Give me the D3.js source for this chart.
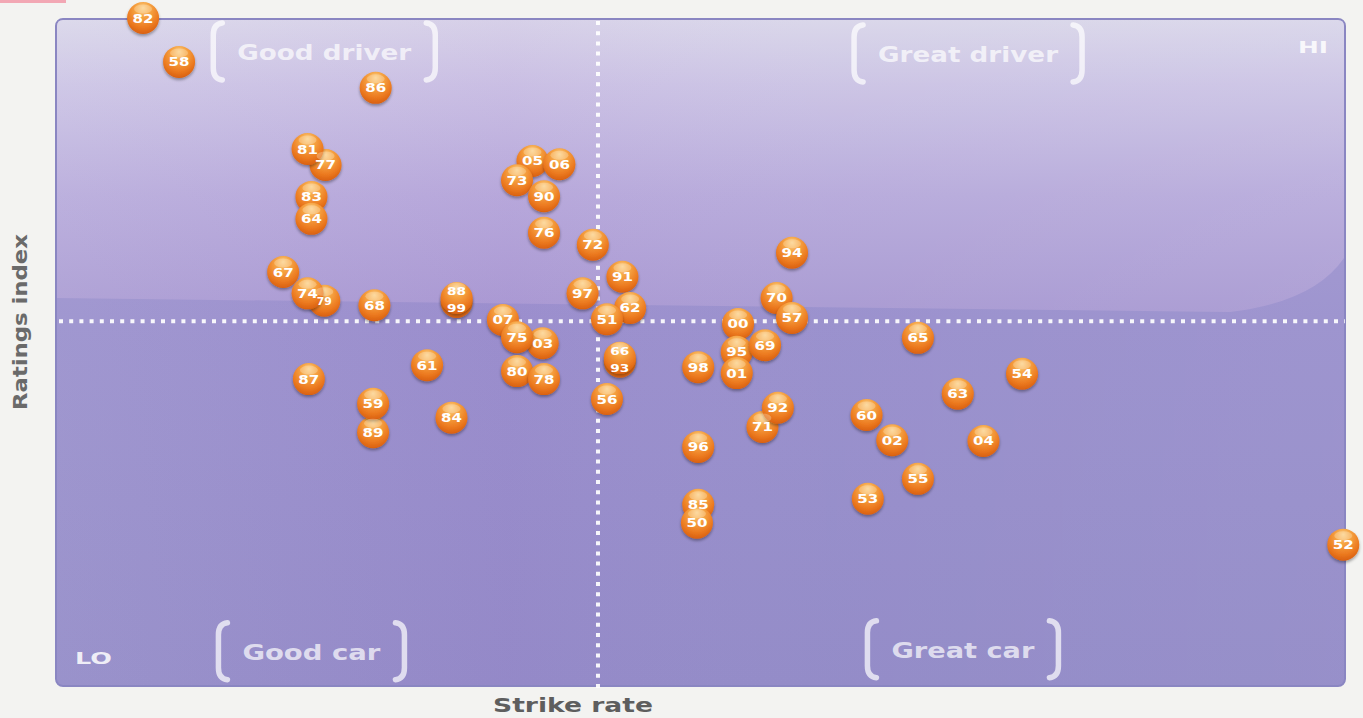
<!DOCTYPE html>
<html>
<head>
<meta charset="utf-8">
<script src="https://cdn.jsdelivr.net/npm/d3@7/dist/d3.min.js"></script>
<style>
  html, body { margin: 0; padding: 0; background: #f3f3f1; }
  svg { display: block; }
</style>
</head>
<body>
<svg id="chart" width="1363" height="718"></svg>
<script>
// Season labels (two-digit year), drawn in this order so later balls sit on top
const seasons = ["82","58","86","77","81","83","64","05","06","73","90","76","72","67","79","74","68","99","88","97","91","62","51","07","03","75","93","66","87","61","80","78","56","89","59","84","94","70","57","00","95","69","98","01","65","54","63","71","92","60","02","04","96","55","53","85","50","52"];
// Strike rate (0-100 index)
const strikeRate = [6.7,9.5,24.8,20.9,19.5,19.8,19.8,37.0,39.1,35.8,37.9,37.9,41.7,17.6,20.8,19.5,24.7,31.1,31.1,40.9,44.0,44.6,42.8,34.7,37.8,35.8,43.8,43.8,19.6,28.8,35.8,37.9,42.8,24.6,24.6,30.7,57.2,56.0,57.2,53.0,52.9,55.1,49.9,52.9,67.0,75.1,70.1,54.9,56.1,63.0,65.0,72.1,49.9,67.0,63.1,49.9,49.8,100.1];
// Ratings index (0-100 index)
const ratingsIndex = [100.3,93.7,89.8,78.2,80.6,73.4,70.1,78.8,78.3,75.9,73.5,68.0,66.2,62.1,57.8,58.9,57.1,57.6,58.2,58.9,61.4,56.7,55.0,54.9,51.4,52.3,48.6,49.2,46.0,48.1,47.2,46.0,43.0,38.0,42.3,40.2,65.0,58.2,55.2,54.3,50.1,51.1,47.8,46.9,52.2,46.8,43.8,38.8,41.7,40.6,36.8,36.7,35.8,31.0,28.0,27.1,24.4,21.1];
// Dividing lines (averages) on each axis
const strikeRateMid = [42.1];
const ratingsMid = [54.7];
// Quadrant captions with their anchor point in index units
const quadrantNames = ["Good driver", "Great driver", "Good car", "Great car"];
const quadrantX = [20.8, 70.9, 19.8, 70.5];
const quadrantY = [95.2, 94.9, 5.0, 5.3];
const scaleEnds = ["LO", "HI"];

const svg = d3.select("#chart");
const plot = { left: 56, top: 19, right: 1345, bottom: 686 };

const x = d3.scaleLinear().domain([0, 100]).range([57, 1342]);
const y = d3.scaleLinear().domain([0, 100]).range([685, 20]);

const defs = svg.append("defs");

// background gradients
const bg = defs.append("linearGradient").attr("id", "bgGrad").attr("x1", 0).attr("y1", 0).attr("x2", 0).attr("y2", 1);
[[0, "#a59ad2"], [0.45, "#968ccb"], [1, "#8e86c5"]].forEach(([o, c]) => bg.append("stop").attr("offset", o).attr("stop-color", c));

const gloss = defs.append("linearGradient").attr("id", "glossGrad").attr("x1", 0).attr("y1", 0).attr("x2", 0).attr("y2", 1);
[[0, "#d8d5e9"], [0.22, "#cac2e4"], [0.6, "#b5a8da"], [1, "#a697d1"]].forEach(([o, c]) => gloss.append("stop").attr("offset", o).attr("stop-color", c));

const haze = defs.append("linearGradient").attr("id", "hazeGrad").attr("x1", 0).attr("y1", 0).attr("x2", 1).attr("y2", 0);
[[0, "#ffffff", 0.10], [0.35, "#c9a0e0", 0.10], [0.6, "#ffffff", 0.05], [1, "#ffffff", 0.08]].forEach(([o, c, a]) =>
  haze.append("stop").attr("offset", o).attr("stop-color", c).attr("stop-opacity", a));

// ball gradient
const ball = defs.append("radialGradient").attr("id", "ballGrad")
  .attr("cx", "50%").attr("cy", "32%").attr("r", "68%").attr("fx", "50%").attr("fy", "18%");
[[0, "#fbd08a"], [0.35, "#f6a443"], [0.75, "#ec7a20"], [1, "#d9600f"]].forEach(([o, c]) => ball.append("stop").attr("offset", o).attr("stop-color", c));

const shadow = defs.append("filter").attr("id", "ballShadow").attr("x", "-30%").attr("y", "-30%").attr("width", "160%").attr("height", "160%");
shadow.append("feGaussianBlur").attr("in", "SourceAlpha").attr("stdDeviation", 1.5);
shadow.append("feOffset").attr("dx", 0).attr("dy", 1.5).attr("result", "b");
shadow.append("feComponentTransfer").append("feFuncA").attr("type", "linear").attr("slope", 0.35);
const merge = shadow.append("feMerge");
merge.append("feMergeNode");
merge.append("feMergeNode").attr("in", "SourceGraphic");

// small accent at the very top-left
svg.append("rect").attr("x", 0).attr("y", 0).attr("width", 66).attr("height", 3).attr("fill", "#f2a7b4");

// panel
svg.append("rect")
  .attr("x", plot.left).attr("y", plot.top)
  .attr("width", plot.right - plot.left).attr("height", plot.bottom - plot.top)
  .attr("rx", 7)
  .attr("fill", "url(#bgGrad)")
  .attr("stroke", "#8a86c2").attr("stroke-width", 2);

// glossy upper band with a rounded lower-right corner
const gx0 = plot.left + 1, gx1 = plot.right - 1;
svg.append("path")
  .attr("d", `M${gx0},${plot.top + 7} Q${gx0},${plot.top + 1} ${gx0 + 6},${plot.top + 1} L${gx1 - 6},${plot.top + 1} Q${gx1},${plot.top + 1} ${gx1},${plot.top + 7} L${gx1},258 Q${gx1 - 30},302 1230,312 L${gx0},298 Z`)
  .attr("fill", "url(#glossGrad)");

svg.append("rect")
  .attr("x", plot.left + 1).attr("y", plot.top + 1)
  .attr("width", plot.right - plot.left - 2).attr("height", plot.bottom - plot.top - 2)
  .attr("rx", 6).attr("fill", "url(#hazeGrad)");

// dotted dividing lines
const dots = svg.append("g").attr("fill", "none").attr("stroke", "#ffffff").attr("stroke-opacity", 0.92)
  .attr("stroke-width", 4).attr("stroke-dasharray", "4,6.2");
dots.selectAll("line.h").data(ratingsMid).join("line").attr("class", "h")
  .attr("x1", plot.left + 3).attr("x2", plot.right).attr("y1", d => y(d)).attr("y2", d => y(d));
dots.selectAll("line.v").data(strikeRateMid).join("line").attr("class", "v")
  .attr("x1", d => x(d)).attr("x2", d => x(d)).attr("y1", plot.top + 2).attr("y2", plot.bottom + 4);

// quadrant captions in brackets
const cap = svg.append("g");
const capWidths = [174, 180, 138, 143];
quadrantNames.forEach((name, i) => {
  const cx = x(quadrantX[i]), cy = y(quadrantY[i]);
  cap.append("text")
    .attr("x", cx).attr("y", cy + 8)
    .attr("text-anchor", "middle")
    .attr("font-family", "DejaVu Sans, sans-serif").attr("font-weight", "bold")
    .attr("font-size", 22).attr("fill", "#ffffff").attr("fill-opacity", 0.7)
    .attr("textLength", capWidths[i]).attr("lengthAdjust", "spacingAndGlyphs")
    .text(name);
  const half = capWidths[i] / 2 + 24;
  const top = cy - 29, bot = cy + 28;
  const bracket = (sx, dir) =>
    `M${sx + dir * 9},${top} Q${sx},${top + 1} ${sx},${top + 12} L${sx},${bot - 12} Q${sx},${bot - 1} ${sx + dir * 9},${bot}`;
  [[cx - half, 1], [cx + half, -1]].forEach(([sx, dir]) =>
    cap.append("path").attr("d", bracket(sx, dir))
      .attr("fill", "none").attr("stroke", "#ffffff").attr("stroke-opacity", 0.7)
      .attr("stroke-width", 5.5).attr("stroke-linecap", "round"));
});

// LO / HI markers
svg.append("text").attr("x", 75).attr("y", 664)
  .attr("font-family", "DejaVu Sans, sans-serif").attr("font-weight", "bold").attr("font-size", 16)
  .attr("fill", "#ffffff").attr("fill-opacity", 0.85).attr("textLength", 37).attr("lengthAdjust", "spacingAndGlyphs")
  .text(scaleEnds[0]);
svg.append("text").attr("x", 1298).attr("y", 53)
  .attr("font-family", "DejaVu Sans, sans-serif").attr("font-weight", "bold").attr("font-size", 16)
  .attr("fill", "#ffffff").attr("fill-opacity", 0.85).attr("textLength", 30).attr("lengthAdjust", "spacingAndGlyphs")
  .text(scaleEnds[1]);

// season balls
const pts = seasons.map((s, i) => ({ label: s, sx: strikeRate[i], ry: ratingsIndex[i], px: x(strikeRate[i]), py: y(ratingsIndex[i]) }));
// balls that nearly coincide share one blob: stack their labels above/below
pts.forEach(p => {
  p.dy = 0;
  const twin = pts.find(q => q !== p && Math.hypot(q.px - p.px, q.py - p.py) < 8);
  if (twin) p.dy = p.py < twin.py ? -6.5 : 6.5;
});

const ballLayer = svg.append("g");
ballLayer.selectAll("circle.ball").data(pts).join("circle")
  .attr("class", "ball")
  .attr("cx", d => d.px).attr("cy", d => d.py).attr("r", 16)
  .attr("fill", "url(#ballGrad)").attr("filter", "url(#ballShadow)");

const labelLayer = svg.append("g");
labelLayer.selectAll("ellipse").data(pts.filter(d => d.dy <= 0)).join("ellipse")
  .attr("cx", d => d.px).attr("cy", d => d.py - 9 + (d.dy < 0 ? -2 : 0)).attr("rx", 9).attr("ry", 4.5)
  .attr("fill", "#fff3d6").attr("fill-opacity", 0.3);
labelLayer.selectAll("text").data(pts).join("text")
  .attr("x", d => d.px).attr("y", d => d.py + (d.dy ? d.dy + 4 : 4.5))
  .attr("text-anchor", "middle")
  .attr("font-family", "DejaVu Sans, sans-serif").attr("font-weight", "bold")
  .attr("font-size", d => d.label === "79" ? 10 : (d.dy ? 11 : 12.5))
  .attr("fill", "#ffffff")
  .attr("textLength", d => d.label === "79" ? 15 : (d.dy ? 19 : 21)).attr("lengthAdjust", "spacingAndGlyphs")
  .text(d => d.label);

// axis titles
svg.append("text")
  .attr("x", 573).attr("y", 712).attr("text-anchor", "middle")
  .attr("font-family", "DejaVu Sans, sans-serif").attr("font-weight", "bold").attr("font-size", 19)
  .attr("fill", "#5e5e5e").attr("textLength", 160).attr("lengthAdjust", "spacingAndGlyphs")
  .text("Strike rate");
svg.append("text")
  .attr("transform", "translate(27,322) rotate(-90)").attr("text-anchor", "middle")
  .attr("font-family", "DejaVu Sans, sans-serif").attr("font-weight", "bold").attr("font-size", 20)
  .attr("fill", "#6a6a6a").attr("textLength", 176).attr("lengthAdjust", "spacingAndGlyphs")
  .text("Ratings index");
</script>
</body>
</html>
